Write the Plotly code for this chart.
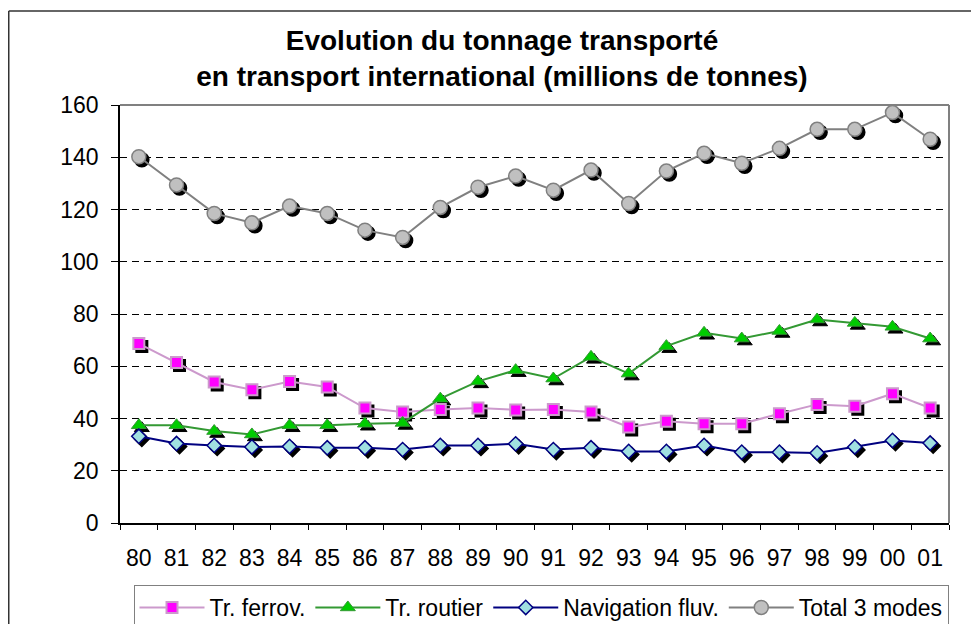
import plotly.graph_objects as go

# Années (axe des catégories)
years = ["80", "81", "82", "83", "84", "85", "86", "87", "88", "89", "90",
         "91", "92", "93", "94", "95", "96", "97", "98", "99", "00", "01"]

# millions de tonnes
ferrov = [68.7, 61.4, 54.0, 51.0, 54.2, 52.1, 44.0, 42.5, 43.4, 44.0, 43.3,
          43.4, 42.5, 36.7, 38.9, 38.0, 38.0, 41.8, 45.4, 44.7, 49.5, 44.0]
routier = [37.4, 37.4, 35.2, 33.9, 37.4, 37.4, 38.0, 38.3, 47.6, 54.2, 58.5,
           55.3, 63.6, 57.2, 67.7, 72.8, 70.6, 73.5, 77.9, 76.6, 75.1, 70.6]
fluvial = [33.2, 30.4, 29.7, 29.1, 29.3, 28.8, 28.8, 28.1, 29.7, 29.7, 30.3,
           28.1, 28.8, 27.4, 27.4, 29.7, 27.1, 27.1, 26.8, 29.1, 31.6, 30.6]
total = [140.2, 129.4, 118.5, 114.9, 121.3, 118.5, 112.1, 109.3, 120.8, 128.5, 132.8,
         127.4, 135.1, 122.3, 134.7, 141.5, 137.7, 143.4, 150.7, 150.7, 157.1, 146.9]

names = ["Tr. ferrov.", "Tr. routier", "Navigation fluv.", "Total 3 modes"]

FONT = "Liberation Sans, Arial, sans-serif"
# la page ajoute une marge de 8 px autour de la figure
W, H = 963, 616
ML, MR, MT, MB = 112, 19, 97, 98
PW = W - ML - MR
PH = H - MT - MB
SH = 3  # décalage de l'ombre des marqueurs, en px

styles = [
    # (valeurs, couleur ligne, symbole, taille, remplissage, bord, largeur bord)
    (ferrov, "#CC99CC", "square", 11, "#FF00FF", "#CC99CC", 2),
    (routier, "#339933", "triangle-up", 13, "#00CC00", "#339933", 1),
    (fluvial, "#000080", "diamond", 11, "#A0E0E0", "#000080", 1.5),
    (total, "#808080", "circle", 14, "#C0C0C0", "#808080", 1.5),
]

fig = go.Figure()

# ombres des marqueurs (sous-graphe décalé de quelques pixels)
for vals, lc, sym, size, fill, border, bw in styles:
    fig.add_trace(go.Scatter(
        x=years, y=vals, mode="markers", xaxis="x", yaxis="y",
        marker=dict(symbol=sym, size=size, color="black",
                    line=dict(color="black", width=bw)),
        showlegend=False, hoverinfo="skip", cliponaxis=False))

# séries
for name, (vals, lc, sym, size, fill, border, bw) in zip(names, styles):
    fig.add_trace(go.Scatter(
        x=years, y=vals, mode="lines+markers", xaxis="x2", yaxis="y2", name=name,
        line=dict(color=lc, width=2),
        marker=dict(symbol=sym, size=size, color=fill,
                    line=dict(color=border, width=bw)),
        cliponaxis=False))

fig.update_layout(
    width=W, height=H, autosize=False,
    margin=dict(l=ML, r=MR, t=MT, b=MB, autoexpand=False),
    paper_bgcolor="white", plot_bgcolor="rgba(0,0,0,0)",
    font=dict(family=FONT, size=23, color="black"),
    title=dict(
        text="<b>Evolution du tonnage transporté<br>en transport international (millions de tonnes)</b>",
        font=dict(family=FONT, size=28, color="black"),
        x=494 / W, xanchor="center", xref="container",
        y=1 - 42 / H, yanchor="top", yref="container"),
    xaxis=dict(domain=[SH / PW, 1], anchor="y", type="category",
               range=[-0.5, 21.5], visible=False),
    yaxis=dict(domain=[0, 1 - SH / PH], anchor="x", range=[0, 160], visible=False),
    xaxis2=dict(domain=[0, 1 - SH / PW], anchor="y2", type="category",
                range=[-0.5, 21.5], showline=True, linecolor="black", linewidth=1.5,
                ticks="outside", tickson="boundaries", ticklen=5, tickcolor="black",
                showgrid=False, zeroline=False, ticklabelstandoff=14, automargin=False),
    yaxis2=dict(domain=[SH / PH, 1], anchor="x2", range=[0, 160], dtick=20,
                showline=True, linecolor="black", linewidth=1.5,
                ticks="outside", ticklen=7, tickcolor="black",
                showgrid=True, gridcolor="black", gridwidth=1, griddash="7px,5px",
                zeroline=False, ticklabelstandoff=8, automargin=False),
    legend=dict(orientation="h", x=(533 - ML) / PW, xanchor="center",
                y=(H - MB - 577) / PH, yanchor="top",
                bordercolor="#808080", borderwidth=1, bgcolor="white",
                font=dict(family=FONT, size=23), itemwidth=65, traceorder="normal"),
    showlegend=True,
    shapes=[
        # cadre de la zone de traçage (haut et droite)
        dict(type="line", xref="x2 domain", yref="y2 domain", x0=0, x1=1, y0=1, y1=1,
             line=dict(color="#808080", width=2)),
        dict(type="line", xref="x2 domain", yref="y2 domain", x0=1, x1=1, y0=0, y1=1,
             line=dict(color="#808080", width=2)),
        # cadre du graphique (haut et gauche, le reste sort de l'image)
        dict(type="line", xref="paper", yref="paper",
             x0=(0.75 - ML) / PW, x1=(W - ML) / PW,
             y0=(H - MB - 3) / PH, y1=(H - MB - 3) / PH,
             line=dict(color="#333333", width=1.5)),
        dict(type="line", xref="paper", yref="paper",
             x0=(0.75 - ML) / PW, x1=(0.75 - ML) / PW,
             y0=(H - MB - 3) / PH, y1=-MB / PH,
             line=dict(color="#333333", width=1.5)),
    ],
)

fig.write_html("out.html")
